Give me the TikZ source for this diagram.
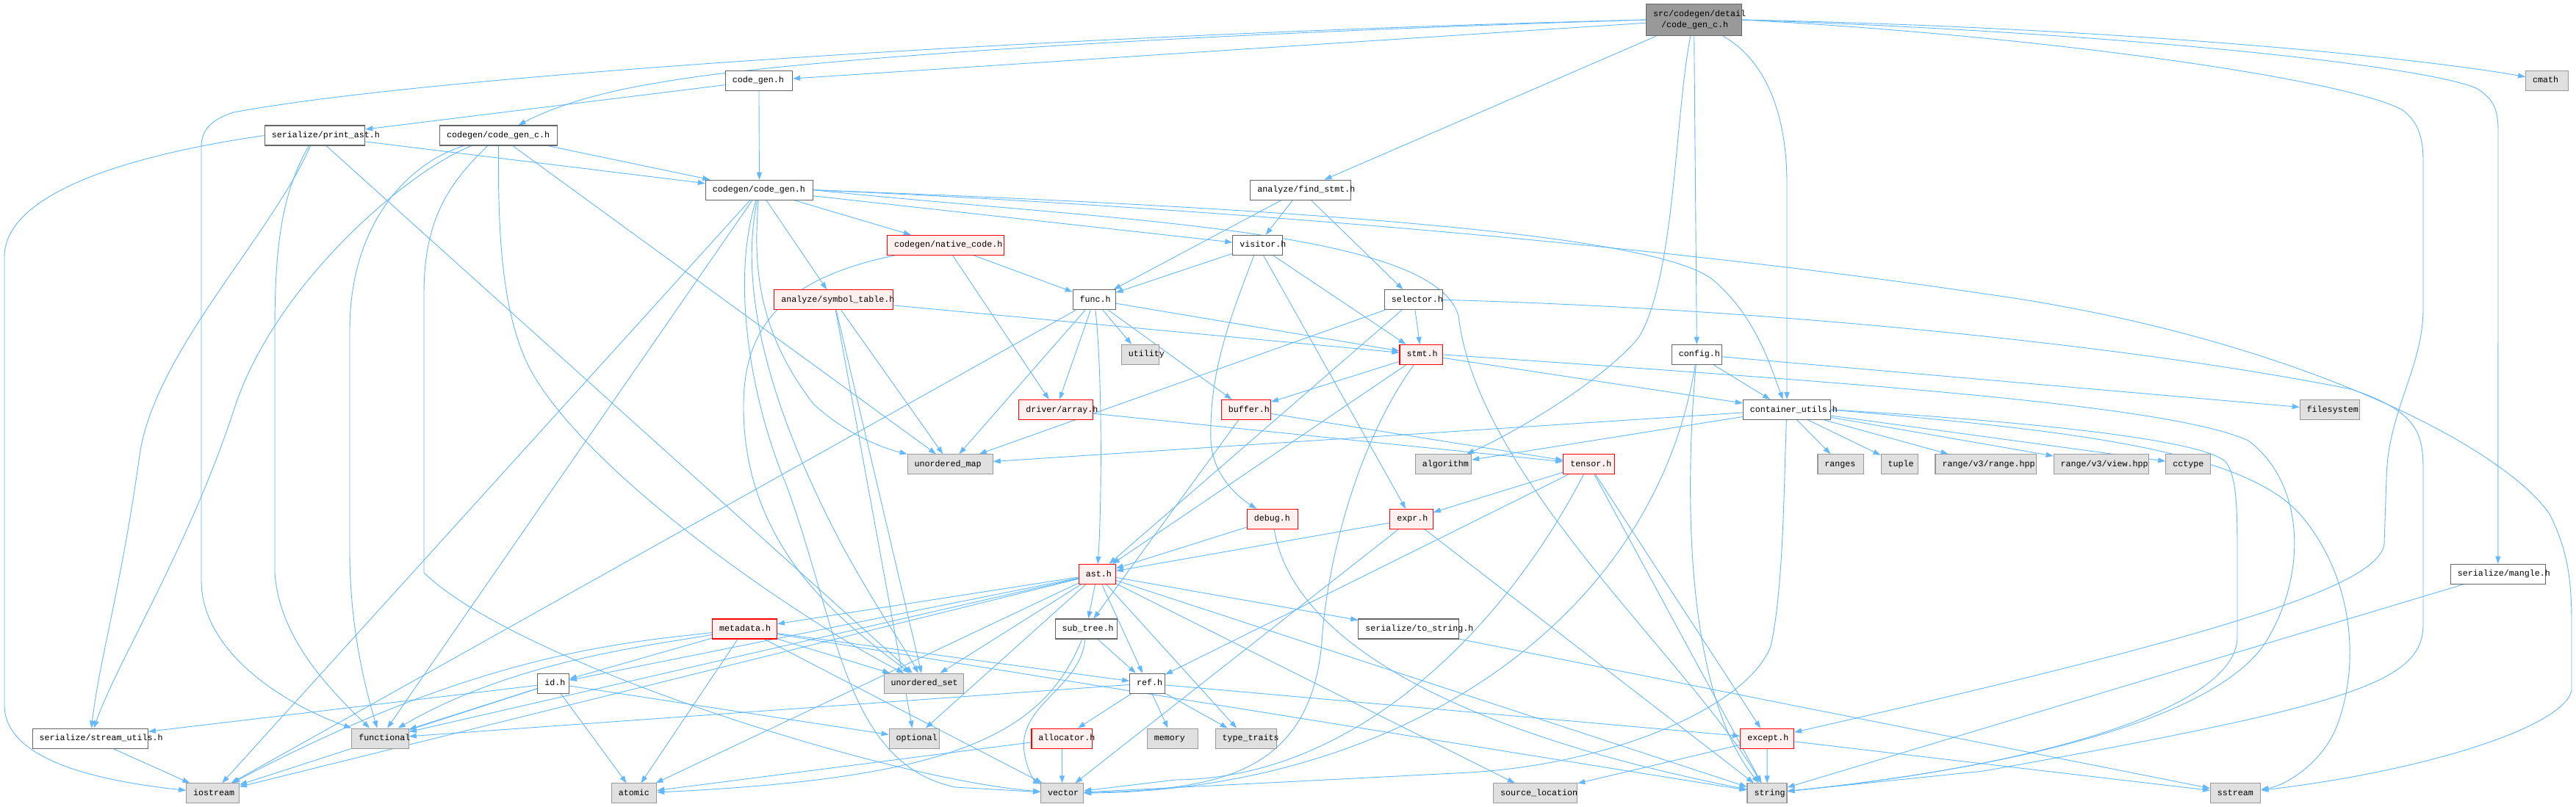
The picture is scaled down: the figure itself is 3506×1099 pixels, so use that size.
\documentclass[tikz,border=0pt]{standalone}
\usepackage{fontspec}
\newfontfamily\nodefont{Liberation Mono}
\usetikzlibrary{arrows.meta}
\definecolor{edgec}{HTML}{63B8FF}
\definecolor{plainb}{HTML}{666666}
\definecolor{extf}{HTML}{E0E0E0}
\definecolor{extb}{HTML}{999999}
\definecolor{truncf}{HTML}{FFF0F0}
\definecolor{truncb}{HTML}{FF0000}
\definecolor{mainf}{HTML}{999999}
\pgfdeclarelayer{bg}
\pgfdeclarelayer{edges}
\pgfsetlayers{bg,edges,main}
\newcommand\nd[6]{\node[#1, minimum width=#5pt] (#2) at (#3,#4) {\makebox[\dimexpr#5pt-19pt\relax][l]{#6}};}
\begin{document}
\begin{tikzpicture}[x=1pt,y=-1pt,
  nb/.style={draw, line width=1.1pt, inner xsep=9.5pt, inner ysep=0pt, minimum height=27pt,
    text height=8.5pt, text depth=2.5pt, font=\nodefont\fontsize{11.67pt}{14pt}\selectfont},
  plain/.style={nb, draw=plainb, fill=white},
  ext/.style={nb, draw=extb, fill=extf},
  trunc/.style={nb, draw=truncb, fill=truncf},
  mainbox/.style={draw=plainb, fill=mainf, line width=1.1pt, inner xsep=9.5pt, inner ysep=0pt,
    minimum width=130.3pt, minimum height=43.5pt, align=left,
    font=\nodefont\fontsize{11.67pt}{15.7pt}\selectfont},
  dep/.style={draw=edgec, line width=0.9pt, -{Triangle[length=10pt,width=7pt]}}]
\begin{pgfonlayer}{bg}
\fill[white] (0,0) rectangle (3506,1099);
\end{pgfonlayer}
\useasboundingbox (0,0) rectangle (3506,1099);

\node[mainbox] (main) at (2305.5,27) {\makebox[111pt][l]{src/codegen/detail}\\\makebox[111pt][l]{\hspace*{11pt}/code\_gen\_c.h}};
\nd{plain}{cgh}{1032.9}{110}{91.3}{code\_gen.h}
\nd{ext}{cmath}{3466.7}{110}{58.1}{cmath}
\nd{plain}{past}{428.5}{184.5}{136.5}{serialize/print\_ast.h}
\nd{plain}{cgc}{678.5}{184.5}{159.6}{codegen/code\_gen\_c.h}
\nd{plain}{cg}{1033.5}{258.7}{146.3}{codegen/code\_gen.h}
\nd{plain}{fstmt}{1770.2}{258.7}{136.6}{analyze/find\_stmt.h}
\nd{trunc}{native}{1287.2}{333.8}{159}{codegen/native\_code.h}
\nd{plain}{visitor}{1711.7}{333.8}{67.7}{visitor.h}
\nd{trunc}{symtab}{1134.8}{408.3}{161.9}{analyze/symbol\_table.h}
\nd{plain}{func}{1489.2}{408.3}{58}{func.h}
\nd{plain}{selector}{1924}{408.3}{79.2}{selector.h}
\nd{ext}{utility}{1551.9}{482.9}{51.1}{utility}
\nd{trunc}{stmt}{1934.3}{482.9}{58.6}{stmt.h}
\nd{plain}{config}{2309.5}{482.9}{68.3}{config.h}
\nd{trunc}{array}{1437}{558}{100.4}{driver/array.h}
\nd{trunc}{buffer}{1695.9}{558}{67.1}{buffer.h}
\nd{plain}{cu}{2432}{558}{119.3}{container\_utils.h}
\nd{ext}{fsys}{3170.8}{558}{81.2}{filesystem}
\nd{ext}{umap}{1293.2}{632.3}{116}{unordered\_map}
\nd{ext}{algo}{1964.5}{632.3}{76.3}{algorithm}
\nd{trunc}{tensor}{2162.5}{632.3}{69.4}{tensor.h}
\nd{ext}{ranges}{2505.2}{632.3}{62.5}{ranges}
\nd{ext}{tuple}{2585.3}{632.3}{50.5}{tuple}
\nd{ext}{rhpp}{2702.7}{632.3}{137.4}{range/v3/range.hpp}
\nd{ext}{vhpp}{2859.9}{632.3}{129.5}{range/v3/view.hpp}
\nd{ext}{cctype}{2978.1}{632.3}{60.6}{cctype}
\nd{trunc}{debug}{1732}{706.9}{69.4}{debug.h}
\nd{trunc}{expr}{1921}{706.9}{58.5}{expr.h}
\nd{trunc}{ast}{1493.3}{782}{50}{ast.h}
\nd{plain}{mangle}{3399.8}{781.7}{129}{serialize/mangle.h}
\nd{trunc}{meta}{1013.4}{856.5}{87.8}{metadata.h}
\nd{plain}{subtree}{1478.3}{856.5}{84.4}{sub\_tree.h}
\nd{plain}{tostr}{1917.1}{856.5}{136.6}{serialize/to\_string.h}
\nd{plain}{idh}{753.1}{930.7}{42.4}{id.h}
\nd{ext}{uset}{1257.4}{930.7}{108.5}{unordered\_set}
\nd{plain}{ref}{1561.5}{930.7}{47.7}{ref.h}
\nd{plain}{sutils}{122.8}{1005.6}{157.3}{serialize/stream\_utils.h}
\nd{ext}{functional}{517.5}{1005.6}{77.5}{functional}
\nd{ext}{optional}{1244.2}{1005.6}{68.3}{optional}
\nd{trunc}{alloc}{1445.3}{1005.6}{82.7}{allocator.h}
\nd{ext}{memory}{1596}{1005.6}{69.5}{memory}
\nd{ext}{ttraits}{1695.8}{1005.6}{83.2}{type\_traits}
\nd{trunc}{except}{2405.2}{1005.6}{72.9}{except.h}
\nd{ext}{iostream}{289.6}{1080.4}{71.8}{iostream}
\nd{ext}{atomic}{863}{1080.4}{61.5}{atomic}
\nd{ext}{vector}{1445.6}{1080.4}{58}{vector}
\nd{ext}{srcloc}{2089.6}{1080.4}{114.2}{source\_location}
\nd{ext}{string}{2405}{1080.4}{54}{string}
\nd{ext}{sstream}{3042.6}{1080.4}{68.4}{sstream}

\begin{pgfonlayer}{edges}
\foreach \s/\t in {main/cgh, main/fstmt, main/config,
 cgh/past, cgh/cg, past/cg, past/uset, cgc/cg, cgc/umap,
 cg/native, cg/symtab, cg/visitor, cg/functional, cg/iostream,
 fstmt/func, fstmt/visitor, fstmt/selector,
 native/func, native/array,
 visitor/func, visitor/stmt, visitor/expr,
 symtab/stmt, symtab/umap, symtab/uset, symtab/optional,
 func/utility, func/array, func/buffer, func/stmt, func/umap, func/iostream,
 selector/stmt, selector/ast, selector/umap,
 stmt/buffer, stmt/ast, stmt/cu,
 config/cu, config/fsys,
 array/tensor, buffer/tensor, buffer/subtree,
 cu/algo, cu/umap, cu/ranges, cu/tuple, cu/rhpp, cu/vhpp, cu/cctype,
 tensor/expr, tensor/except, tensor/string, tensor/ref,
 debug/ast, expr/ast, expr/string, expr/vector,
 ast/subtree, ast/ref, ast/tostr, ast/ttraits, ast/optional, ast/meta, ast/idh, ast/iostream,
 ast/functional, ast/atomic, ast/string, ast/srcloc, ast/uset,
 meta/idh, meta/atomic, meta/vector, meta/string, meta/ref, meta/uset,
 subtree/ref,
 idh/sutils, idh/functional, idh/iostream, idh/atomic, idh/optional,
 ref/alloc, ref/memory, ref/ttraits, ref/except, ref/functional,
 alloc/vector, alloc/atomic, tostr/sstream, mangle/string,
 except/string, except/srcloc, except/sstream, sutils/iostream}
 {\draw[dep] (\s) -- (\t);}

% routed connectors
\draw[dep] (main.west) .. controls (1500,45) and (600,100) .. (318,153) .. controls (290,162) and (274,175) .. (274,200) -- (274,790) .. controls (274,890) and (390,960) .. (functional);
\draw[dep] (main.west) .. controls (1500,50) and (1050,85) .. (900,112) .. controls (800,128) and (745,150) .. (cgc);
\draw[dep] (main) .. controls (2280,150) and (2280,380) .. (2230,460) .. controls (2180,520) and (2060,590) .. (algo);
\draw[dep] (main) .. controls (2400,80) and (2432,150) .. (2432,250) -- (cu);
\draw[dep] (main.east) .. controls (2900,45) and (3300,90) .. (3370,120) .. controls (3395,135) and (3400,150) .. (3400,180) -- (mangle);
\draw[dep] (main.east) .. controls (2900,38) and (3300,80) .. (cmath);
\draw[dep] (main.east) .. controls (2800,50) and (3200,110) .. (3270,150) .. controls (3290,165) and (3298,185) .. (3298,220) -- (3298,420) .. controls (3298,500) and (3250,560) .. (3248,650) -- (3245,740) .. controls (3240,800) and (3000,870) .. (except);
\draw[dep] (past.west) .. controls (150,215) and (6,270) .. (6,350) -- (6,960) .. controls (6,1040) and (150,1065) .. (iostream);
\draw[dep] (past) .. controls (370,320) and (210,480) .. (190,620) .. controls (165,800) and (135,900) .. (sutils);
\draw[dep] (past) .. controls (385,260) and (374,330) .. (374,450) -- (374,780) .. controls (380,870) and (450,940) .. (functional);
\draw[dep] (cgc) .. controls (560,230) and (380,380) .. (321,550) .. controls (260,740) and (160,900) .. (sutils);
\draw[dep] (cgc) .. controls (560,220) and (476,300) .. (476,450) -- (476,750) .. controls (476,850) and (495,930) .. (functional);
\draw[dep] (cgc) .. controls (610,250) and (577,300) .. (577,400) -- (577,780) .. controls (700,900) and (1200,1060) .. (vector);
\draw[dep] (cgc) .. controls (678,300) and (680,420) .. (720,500) .. controls (800,650) and (1100,850) .. (uset);
\draw[dep] (cg) .. controls (1025,360) and (1030,450) .. (1107,550) .. controls (1150,590) and (1200,610) .. (umap);
\draw[dep] (cg) .. controls (1000,420) and (1070,600) .. (1150,750) .. controls (1200,840) and (1230,880) .. (uset);
\draw[dep] (cg) .. controls (995,380) and (1020,540) .. (1070,660) .. controls (1140,850) and (1150,1040) .. (1300,1072) -- (vector);
\draw[dep] (cg.east) .. controls (1700,285) and (2300,340) .. (2700,400) .. controls (3100,455) and (3400,600) .. (3470,700) .. controls (3495,750) and (3500,790) .. (3500,850) -- (3500,940) .. controls (3490,990) and (3300,1050) .. (sstream);
\draw[dep] (cg.east) .. controls (1800,285) and (2250,320) .. (2330,380) .. controls (2390,430) and (2410,500) .. (cu);
\draw[dep] (cg.east) .. controls (1500,300) and (1950,310) .. (1985,430) .. controls (2010,650) and (2300,900) .. (string);
\draw[dep] (native) .. controls (1060,380) and (1010,450) .. (1012,560) .. controls (1015,750) and (1150,850) .. (uset);
\draw[dep] (visitor) .. controls (1680,420) and (1645,500) .. (1648,600) .. controls (1650,650) and (1690,680) .. (debug);
\draw[dep] (func) .. controls (1500,500) and (1500,680) .. (ast);
\draw[dep] (subtree) .. controls (1470,940) and (1380,960) .. (1395,1030) .. controls (1400,1055) and (1410,1065) .. (vector);
\draw[dep] (subtree) .. controls (1420,1000) and (1300,1060) .. (atomic);
\draw[dep] (meta) .. controls (880,880) and (700,900) .. (functional);
\draw[dep] (meta) .. controls (850,875) and (650,890) .. (iostream);
\draw[dep] (config) .. controls (2290,700) and (2300,950) .. (string);
\draw[dep] (config) .. controls (2250,850) and (1900,1075) .. (vector);
\draw[dep] (tensor) .. controls (2050,850) and (1850,1060) .. (1600,1062) -- (vector);
\draw[dep] (stmt) .. controls (1850,600) and (1810,750) .. (1800,860) .. controls (1790,1060) and (1650,1075) .. (vector);
\draw[dep] (debug) .. controls (1760,880) and (2000,1000) .. (string);
\draw[dep] (selector.east) .. controls (2400,420) and (2900,470) .. (3200,530) .. controls (3290,560) and (3298,590) .. (3298,640) -- (3298,850) .. controls (3298,930) and (3200,960) .. (2700,1050) -- (string);
\draw[dep] (stmt.east) .. controls (2500,520) and (2950,550) .. (3060,600) .. controls (3140,660) and (3140,790) .. (3080,880) .. controls (3000,990) and (2700,1050) .. (string);
\draw[dep] (cu.east) .. controls (2700,570) and (3000,595) .. (3030,630) .. controls (3045,650) and (3045,700) .. (3045,760) -- (3045,870) .. controls (3040,960) and (2800,1040) .. (string);
\draw[dep] (cu.east) .. controls (2800,585) and (3050,610) .. (3130,700) .. controls (3200,780) and (3215,900) .. (3180,990) .. controls (3160,1040) and (3110,1070) .. (sstream);
\draw[dep] (cu) .. controls (2428,650) and (2428,800) .. (2410,880) .. controls (2380,960) and (2200,1040) .. (2000,1052) -- (vector);
\end{pgfonlayer}
\end{tikzpicture}
\end{document}
